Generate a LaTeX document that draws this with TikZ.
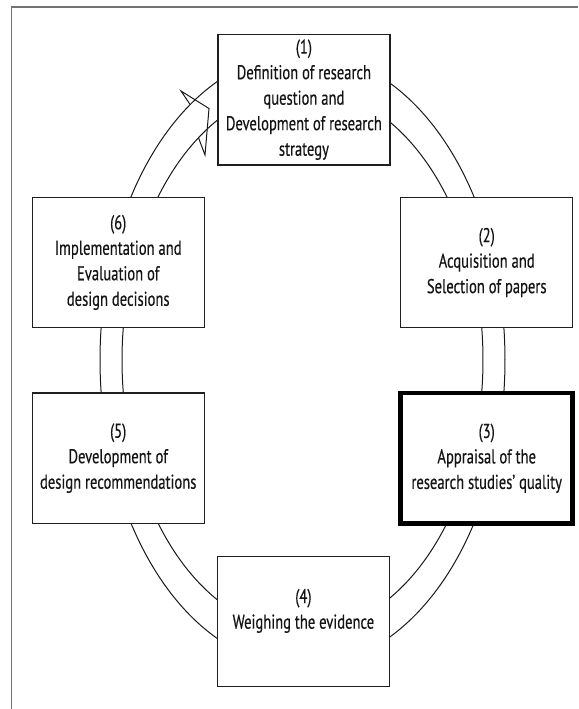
\documentclass[tikz,border=0pt]{standalone}
\usepackage{fontspec}
\setmainfont[FakeStretch=0.73,FakeBold=0.35]{PT Sans}
\begin{document}
\begin{tikzpicture}[x=1pt,y=-1pt,
  box/.style={draw=black!88, line width=1.2pt, fill=white,
    minimum width=172pt, minimum height=130.5pt, inner sep=0pt,
    align=center, text=black!92, font=\fontsize{20}{25.5}\selectfont},
  keybox/.style={box, line width=4.5pt, draw=black},
  ring/.style={draw=black!90, line width=1pt, line join=miter},
  frame/.style={draw=black!55, line width=1.1pt}]
\useasboundingbox (0,0) rectangle (578,709);
\coordinate (fa) at (578,7);
\coordinate (fb) at (11.3,7);
\coordinate (fc) at (11.3,709);
\draw[frame] (fa) -- (fb) -- (fc);
\coordinate (ringc) at (302.5,360);
% ring bands
\draw[ring, shift={(ringc)}] plot[domain=-270:123.7, samples=240, smooth] ({202.5*cos(\x)},{-307*sin(\x)});
\draw[ring, shift={(ringc)}] plot[domain=-270:125.2, samples=240, smooth] ({180.5*cos(\x)},{-272*sin(\x)});
% arrow head
\coordinate (ao) at (190.2,104.6);
\coordinate (ab1) at (181,91);
\coordinate (at) at (209,108.5);
\coordinate (ab2) at (205,155);
\coordinate (ai) at (198.5,137.7);
\draw[ring] (ao) -- (ab1) -- (at) -- (ab2) -- (ai);
% boxes
\node[box] (b1) at (303.9,99.7) {(1)\\Definition of research\\question and\\Development of research\\strategy};
\node[box] (b2) at (486.7,262.5) {(2)\\Acquisition and\\Selection of papers};
\node[keybox] (b3) at (486.7,458.3) {(3)\\Appraisal of the\\research studies’ quality};
\node[box] (b4) at (303.4,621.5) {(4)\\Weighing the evidence\\\mbox{}};
\node[box] (b5) at (118.2,458.2) {(5)\\Development of\\design recommendations};
\node[box] (b6) at (118.2,262.5) {(6)\\Implementation and\\Evaluation of\\design decisions};
\end{tikzpicture}
\end{document}
